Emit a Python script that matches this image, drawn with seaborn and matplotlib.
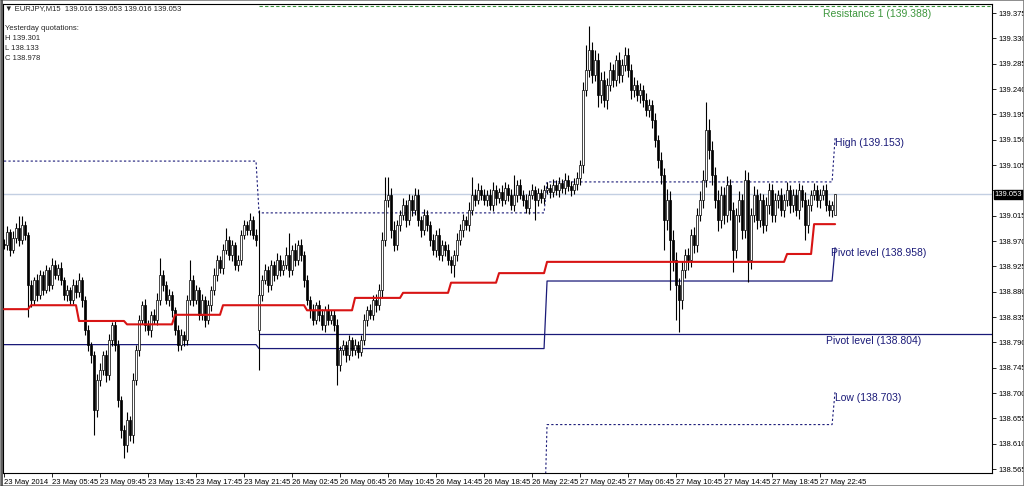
import numpy as np
import pandas as pd
import seaborn as sns
import matplotlib.pyplot as plt
from matplotlib.patches import Rectangle
from matplotlib.transforms import blended_transform_factory

# EURJPY M15 closes, one list per trading day
closes_d1 = [
    138.963, 138.986, 138.954, 138.975, 138.993, 138.972, 138.998, 138.981,
    138.892, 138.865, 138.901, 138.874, 138.910, 138.883,
    138.918, 138.892, 138.927, 138.910, 138.922, 138.901,
    138.874, 138.883, 138.865, 138.892, 138.879, 138.901, 138.865,
    138.812, 138.785, 138.767, 138.670, 138.723, 138.741, 138.767, 138.732,
    138.794, 138.821, 138.785, 138.688, 138.634, 138.608, 138.652, 138.625,
    138.723, 138.776, 138.830, 138.856, 138.821, 138.812, 138.839, 138.830,
    138.865, 138.910, 138.892, 138.865, 138.874, 138.847,
    138.812, 138.785, 138.803, 138.794, 138.865, 138.901, 138.865, 138.883,
    138.839, 138.865, 138.830, 138.856, 138.883, 138.910, 138.936, 138.922,
    138.954, 138.972, 138.945, 138.963, 138.927, 138.936,
    138.981, 138.998, 138.990, 139.007, 138.981, 138.972,
]
closes_d2 = [
    138.874, 138.901, 138.918, 138.892, 138.927, 138.910, 138.936, 138.918,
    138.927, 138.945, 138.918, 138.954, 138.936, 138.963, 138.945,
    138.901, 138.865, 138.847, 138.830, 138.856, 138.839, 138.821, 138.847,
    138.830, 138.839, 138.821, 138.750, 138.776,
    138.785, 138.767, 138.794, 138.776, 138.785, 138.773, 138.794,
    138.830, 138.847, 138.839, 138.865, 138.856, 138.883,
    138.972, 139.043, 139.052, 138.990, 138.963, 138.998,
    139.016, 139.034, 139.007, 139.043, 139.025, 139.052,
    139.007, 138.990, 139.016, 138.998,
    138.972, 138.954, 138.981, 138.945, 138.963, 138.954, 138.936,
    138.927, 138.945, 138.972, 138.990, 139.007, 138.998, 139.025,
    139.052, 139.043, 139.061, 139.052,
    139.043, 139.052, 139.034, 139.061, 139.046, 139.057, 139.043, 139.064,
    139.052, 139.034, 139.052, 139.069, 139.052, 139.043, 139.029, 139.052,
    139.061, 139.043, 139.055, 139.046, 139.061,
]
closes_d3 = [
    139.064, 139.057, 139.069, 139.061, 139.073, 139.064, 139.078, 139.068,
    139.061, 139.071, 139.082,
    139.105, 139.238, 139.274, 139.309, 139.265, 139.292, 139.229, 139.256,
    139.220, 139.247, 139.274, 139.256, 139.292, 139.265, 139.283, 139.300,
    139.274, 139.238, 139.247, 139.229, 139.238, 139.220, 139.203, 139.212,
    139.185, 139.149, 139.114, 139.087, 139.007, 139.043, 138.972, 138.936,
    138.892, 138.865, 138.918, 138.945, 138.936, 138.981, 138.963, 139.016,
    139.043, 139.078, 139.167, 139.132, 139.087, 139.043, 139.007, 139.052,
    139.016, 139.069, 139.025, 138.954, 139.016, 139.043, 138.990, 139.078,
    138.936, 139.016, 139.052, 139.007, 139.043, 138.998, 139.034, 139.061,
    139.016, 139.043, 139.052, 139.025, 139.043, 139.061, 139.034, 139.052,
    139.025, 139.061, 139.043, 138.998, 139.034, 139.052, 139.061, 139.043,
    139.052, 139.061, 139.034, 139.025, 139.034,
]
closes_d4 = [139.053]

first_open = 138.965
gap_opens = {85: 138.812, 277: 139.016}

# wick lengths in points (0.001) above / below the body
wick_up = [
    8, 10, 6, 12, 9, 21, 16, 7, 5, 9, 6, 11, 8, 7, 10, 6, 12, 9, 7, 11,
    6, 9, 5, 10, 8, 12, 6, 7, 9, 5, 8, 10, 12, 7, 9, 11, 6, 8, 10, 7,
    9, 14, 8, 12, 10, 9, 7, 11, 8, 6, 10, 12, 30, 9, 7, 10, 8, 6, 9, 11,
    7, 10, 35, 8, 9, 6, 11, 8, 10, 7, 12, 9, 8, 10, 21, 7, 9, 6, 10, 8,
    9, 7, 13, 8, 10, 151, 9, 11, 7, 10, 8, 12, 9, 10, 14, 40, 9, 12, 8, 10,
    7, 9, 8, 11, 6, 9, 10, 7, 12, 8, 9, 11, 7, 10, 8, 9, 6, 11, 8, 9,
    10, 8, 12, 9, 11, 10, 14, 41, 32, 12, 15, 10, 9, 12, 8, 11, 9, 12, 10, 8,
    11, 9, 7, 10, 8, 12, 9, 7, 10, 8, 9, 12, 10, 11, 8, 14, 32, 10, 12, 9,
    11, 8, 10, 13, 9, 7, 12, 10, 8, 11, 35, 9, 12, 8, 10, 9, 11, 7, 10, 8,
    9, 11, 8, 12, 9, 10, 7, 13, 9, 8, 11, 10, 9, 14, 44, 43, 15, 18, 12, 14,
    16, 12, 14, 10, 8, 13, 11, 15, 12, 10, 14, 9, 12, 10, 13, 11, 9, 12, 10, 14,
    12, 20, 15, 18, 14, 12, 16, 10, 13, 11, 14, 12, 15, 18, 50, 20, 16, 14, 18, 15,
    14, 17, 12, 15, 13, 16, 11, 18, 14, 12, 15, 10, 13, 11, 14, 12, 10, 13, 9, 12,
    10, 13, 9, 11, 10, 12, 9, 14, 10, 8, 12, 9, 11, 8, 10, 9, 7, 0,
]
wick_dn = [
    7, 9, 11, 6, 8, 10, 7, 9, 57, 12, 8, 10, 7, 9, 6, 11, 8, 7, 10, 9,
    8, 11, 9, 7, 10, 8, 12, 9, 11, 14, 45, 12, 10, 9, 13, 8, 11, 10, 12, 14,
    24, 12, 10, 14, 9, 11, 8, 10, 9, 12, 8, 10, 9, 11, 7, 10, 12, 9, 11, 8,
    10, 9, 8, 11, 7, 10, 9, 12, 8, 10, 9, 11, 8, 10, 7, 9, 11, 8, 10, 9,
    8, 10, 9, 7, 11, 71, 10, 8, 12, 9, 11, 8, 10, 9, 7, 12, 9, 11, 8, 10,
    12, 9, 14, 10, 8, 11, 9, 12, 10, 8, 11, 36, 10, 9, 12, 8, 10, 9, 11, 8,
    9, 11, 8, 10, 12, 9, 15, 10, 12, 14, 11, 9, 10, 8, 12, 9, 11, 8, 10, 12,
    9, 11, 10, 8, 12, 9, 10, 11, 8, 13, 21, 10, 9, 12, 8, 10, 9, 11, 8, 10,
    9, 11, 8, 10, 12, 9, 10, 8, 11, 9, 10, 12, 8, 10, 9, 11, 8, 36, 10, 9,
    10, 8, 11, 9, 10, 12, 8, 10, 9, 11, 8, 10, 12, 14, 10, 12, 15, 11, 21, 13,
    12, 15, 11, 13, 10, 14, 12, 11, 13, 15, 12, 10, 14, 12, 11, 13, 15, 12, 14, 16,
    53, 18, 89, 20, 62, 57, 16, 14, 18, 12, 15, 13, 11, 14, 12, 16, 18, 15, 20, 14,
    16, 13, 18, 39, 15, 12, 17, 14, 39, 16, 13, 15, 12, 14, 11, 16, 13, 12, 15, 11,
    13, 10, 14, 12, 11, 15, 12, 26, 13, 11, 10, 12, 14, 9, 11, 10, 12, 0,
]

# daily levels: 23 May, 26 May, 27 May, 28 May
day_high = [139.112, 139.020, 139.075, 139.153]
day_low = [138.450, 138.450, 138.644, 138.703]
day_pivot = [138.786, 138.779, 138.899, 138.958]
week_pivot = 138.804
resistance_1 = 139.388
bid = 139.053

# red indicator: bar where each step starts and its value
red_start = [0, 9, 25, 41, 57, 73, 101, 117, 133, 149, 165, 181, 261, 270]
red_value = [138.849, 138.856, 138.828, 138.822, 138.839, 138.856, 138.847,
             138.869, 138.878, 138.896, 138.913, 138.933, 138.947, 139.000]

price_ticks = [138.565, 138.610, 138.655, 138.700, 138.745, 138.790, 138.835,
               138.880, 138.925, 138.970, 139.015, 139.060, 139.105, 139.150,
               139.195, 139.240, 139.285, 139.330, 139.375]

times = (pd.date_range("2014-05-23 01:45", periods=len(closes_d1), freq="15min")
         .append(pd.date_range("2014-05-26 00:00", periods=len(closes_d2), freq="15min"))
         .append(pd.date_range("2014-05-27 00:00", periods=len(closes_d3), freq="15min"))
         .append(pd.date_range("2014-05-28 00:00", periods=len(closes_d4), freq="15min")))

closes = np.array(closes_d1 + closes_d2 + closes_d3 + closes_d4)
n = len(closes)
bars = np.arange(n)
day_id = np.repeat([0, 1, 2, 3], [len(closes_d1), len(closes_d2), len(closes_d3), len(closes_d4)])

opens = np.r_[first_open, closes[:-1]]
for k, v in gap_opens.items():
    opens[k] = v
highs = np.maximum(opens, closes) + np.array(wick_up[:n]) / 1000
lows = np.minimum(opens, closes) - np.array(wick_dn[:n]) / 1000

df = pd.DataFrame({
    "bar": bars, "open": opens, "high": highs, "low": lows, "close": closes,
    "day_high": np.take(day_high, day_id),
    "day_low": np.take(day_low, day_id),
    "day_pivot": np.take(day_pivot, day_id),
    "red": np.take(red_value, np.searchsorted(red_start, bars, side="right") - 1),
})

sns.set_theme(style="white")
plt.rcParams["font.family"] = ["Liberation Sans", "DejaVu Sans"]

fig = plt.figure(figsize=(10.24, 4.86), dpi=100)
ax = fig.add_axes([3 / 1024, 13 / 486, 989 / 1024, 469 / 486])
ax.set_facecolor("white")

x_right = 329.3
navy = "#1a1a78"

# levels
ax.axhline(bid, color="#c3cfe2", lw=1.0, zorder=1)
sns.lineplot(x=[85, x_right], y=[resistance_1, resistance_1], ax=ax, color="#3c963c",
             lw=0.8, linestyle=(0, (3, 2)), zorder=2)
sns.lineplot(x=[85, x_right], y=[week_pivot, week_pivot], ax=ax, color=navy, lw=0.9, zorder=2)
sns.lineplot(data=df, x="bar", y="day_pivot", ax=ax, color=navy, lw=0.9, zorder=2)
sns.lineplot(data=df, x="bar", y="day_high", ax=ax, color=navy, lw=0.8,
             linestyle=(0, (2, 2)), zorder=2)
sns.lineplot(data=df, x="bar", y="day_low", ax=ax, color=navy, lw=0.8,
             linestyle=(0, (2, 2)), zorder=2)
sns.lineplot(data=df, x="bar", y="red", ax=ax, color="#d81414", lw=1.5, zorder=4)

# candles
up = df["close"] >= df["open"]
ax.vlines(df["bar"], df["low"], df["high"], color="black", lw=0.8, zorder=3)
body = (df["close"] - df["open"]).abs().clip(lower=0.0012)
ax.bar(df["bar"], body, bottom=np.minimum(df["open"], df["close"]), width=0.62,
       color=np.where(up, "white", "black"), edgecolor="black", linewidth=0.5, zorder=3)

# level labels
ax.text(291, 139.374, "Resistance 1 (139.388)", color="#3c963c", fontsize=7.5,
        ha="center", va="center")
ax.text(277, 139.144, "High (139.153)", color=navy, fontsize=7.5, ha="left", va="center")
ax.text(275.5, 138.949, "Pivot level (138.958)", color=navy, fontsize=7.5, ha="left", va="center")
ax.text(274, 138.792, "Pivot level (138.804)", color=navy, fontsize=7.5, ha="left", va="center")
ax.text(277, 138.691, "Low (138.703)", color=navy, fontsize=7.5, ha="left", va="center")

ax.set_xlim(-0.33, x_right)
ax.set_ylim(138.558, 139.391)

# axes (the 139.060 label sits under the bid tag)
ax.yaxis.tick_right()
ax.set_yticks(price_ticks)
ax.set_yticklabels(["" if abs(p - bid) < 0.01 else f"{p:.3f}" for p in price_ticks])
tick_bars = list(range(0, n, 16))
ax.set_xticks(tick_bars)
ax.set_xticklabels(["23 May 2014"] + [times[b].strftime("%d %b %H:%M") for b in tick_bars[1:]],
                   ha="left")
ax.tick_params(axis="both", labelsize=5.5, length=3, width=0.6, direction="out",
               color="black", pad=1.5, labelcolor="black")
ax.tick_params(axis="y", right=True, left=False)
ax.tick_params(axis="x", bottom=True)
ax.set_xlabel("")
ax.set_ylabel("")
for s in ax.spines.values():
    s.set_color("black")
    s.set_linewidth(0.8)

ax.text(1.003, bid, f"{bid:.3f}", transform=blended_transform_factory(ax.transAxes, ax.transData),
        color="white", fontsize=5.5, ha="left", va="center", zorder=10, clip_on=False,
        bbox=dict(boxstyle="square,pad=0.15", facecolor="black", edgecolor="black"))

# header texts
fig.text(5 / 1024, 1 - 9 / 486, "\u25bc EURJPY,M15  139.016 139.053 139.016 139.053",
         fontsize=5.5, va="center", ha="left")
for i, line in enumerate(["Yesterday quotations:", "H 139.301", "L 138.133", "C 138.978"]):
    fig.text(5 / 1024, 1 - (28 + 10 * i) / 486, line, fontsize=5.5, va="center", ha="left")

fig.patches.append(Rectangle((0, 0), 1, 1, transform=fig.transFigure, fill=False,
                             edgecolor="#7a7a7a", lw=1.2))
fig.add_artist(plt.Line2D([1.5 / 1024, 1.5 / 1024], [0, 1], transform=fig.transFigure,
                          color="#404040", lw=1.2))

fig.savefig("out.png", dpi=100)
